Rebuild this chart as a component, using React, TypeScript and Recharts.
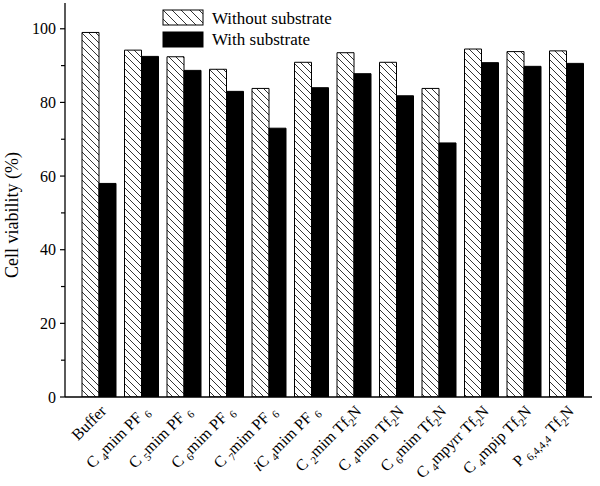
import React from "react";
import { BarChart, Bar, XAxis, YAxis, Legend } from "recharts";

const categories = [
  "Buffer",
  "C4mim PF6",
  "C5mim PF6",
  "C6mim PF6",
  "C7mim PF6",
  "iC4mim PF6",
  "C2mim Tf2N",
  "C4mim Tf2N",
  "C6mim Tf2N",
  "C4mpyrr Tf2N",
  "C4mpip Tf2N",
  "P6,4,4,4 Tf2N",
];

const withoutSubstrate = [99, 94.2, 92.4, 89, 83.8, 90.9, 93.5, 90.9, 83.8, 94.5, 93.8, 94];
const withSubstrate = [58, 92.5, 88.7, 83, 73, 84, 87.8, 81.8, 69, 90.8, 89.8, 90.6];

const yTicks = [0, 10, 20, 30, 40, 50, 60, 70, 80, 90, 100];
const yLabelTicks = [0, 20, 40, 60, 80, 100];

// label segments: [text, kind] where kind: "n" normal, "s" subscript, "i" italic
const labelParts: [string, string][][] = [
  [["Buffer", "n"]],
  [["C ", "n"], ["4", "s"], ["mim PF ", "n"], ["6", "s"]],
  [["C ", "n"], ["5", "s"], ["mim PF ", "n"], ["6", "s"]],
  [["C ", "n"], ["6", "s"], ["mim PF ", "n"], ["6", "s"]],
  [["C ", "n"], ["7", "s"], ["mim PF ", "n"], ["6", "s"]],
  [["i", "i"], ["C ", "n"], ["4", "s"], ["mim PF ", "n"], ["6", "s"]],
  [["C ", "n"], ["2", "s"], ["mim Tf", "n"], ["2", "s"], ["N", "n"]],
  [["C ", "n"], ["4", "s"], ["mim Tf", "n"], ["2", "s"], ["N", "n"]],
  [["C ", "n"], ["6", "s"], ["mim Tf", "n"], ["2", "s"], ["N", "n"]],
  [["C ", "n"], ["4", "s"], ["mpyrr Tf", "n"], ["2", "s"], ["N", "n"]],
  [["C ", "n"], ["4", "s"], ["mpip Tf", "n"], ["2", "s"], ["N", "n"]],
  [["P ", "n"], ["6,4,4,4", "s"], [" Tf", "n"], ["2", "s"], ["N", "n"]],
];

const data = categories.map((name, i) => ({
  name,
  without: withoutSubstrate[i],
  with: withSubstrate[i],
}));

const FONT = "Liberation Serif, Times New Roman, serif";
const fontStyle = { fontFamily: FONT };

const XTick = (props: any) => {
  const { x, y, index } = props;
  const parts = labelParts[index] || [[String(props.payload?.value ?? ""), "n"]];
  const ax = x + 8;
  const ay = y + 15;
  let shift = 0;
  const spans = parts.map(([t, k], j) => {
    let dy = 0;
    if (k === "s" && shift === 0) {
      dy = 4;
      shift = 4;
    } else if (k !== "s" && shift !== 0) {
      dy = -4;
      shift = 0;
    }
    return (
      <tspan
        key={j}
        dy={dy}
        style={{ fontFamily: FONT, fontSize: k === "s" ? 11 : 16, fontStyle: k === "i" ? "italic" : "normal" }}
      >
        {t}
      </tspan>
    );
  });
  return (
    <text
      x={ax}
      y={ay}
      textAnchor="end"
      transform={`rotate(-45, ${ax}, ${ay})`}
      style={{ fontFamily: FONT, fontSize: 16 }}
      fill="#000"
    >
      {spans}
    </text>
  );
};

const YTick = (props: any) => {
  const { x, y, payload } = props;
  const v = payload.value;
  const major = yLabelTicks.includes(v);
  return (
    <g>
      <line x1={x} x2={x - (major ? 5 : 4)} y1={y} y2={y} stroke="#000" strokeWidth={1.2} />
      {major && (
        <text
          x={x - 9}
          y={y}
          dy="0.35em"
          textAnchor="end"
          style={{ fontFamily: FONT, fontSize: 16 }}
          fill="#000"
        >
          {v}
        </text>
      )}
    </g>
  );
};

const YTitle = () => (
  <text
    x={18}
    y={215}
    transform="rotate(-90, 18, 215)"
    textAnchor="middle"
    style={{ fontFamily: FONT, fontSize: 18 }}
    fill="#000"
  >
    Cell viability (%)
  </text>
);

const LegendContent = () => (
  <svg width={360} height={52} style={{ display: "block", fontFamily: FONT }}>
    <rect x={163} y={10} width={40} height={15} fill="url(#hatchLegend)" stroke="#000" strokeWidth={1} />
    <text x={212} y={24} style={{ fontFamily: FONT, fontSize: 17 }} fill="#000">
      Without substrate
    </text>
    <rect x={163} y={32} width={40} height={15} fill="#000" stroke="#000" strokeWidth={1} />
    <text x={212} y={45} style={{ fontFamily: FONT, fontSize: 17 }} fill="#000">
      With substrate
    </text>
  </svg>
);

export default function App() {
  return (
    <div style={{ position: "absolute", left: 0, top: 0, width: 600, height: 486, background: "#fff", fontFamily: FONT }}>
      <svg width={0} height={0} style={{ position: "absolute" }}>
        <defs>
          <pattern id="hatchBar" patternUnits="userSpaceOnUse" width={7} height={7}>
            <rect x={0} y={0} width={7} height={7} fill="#fff" />
            <path d="M-1,-1 L8,8 M-1,6 L1,8 M6,-1 L8,1" stroke="#000" strokeWidth={0.8} />
          </pattern>
          <pattern id="hatchLegend" patternUnits="userSpaceOnUse" width={9} height={9}>
            <rect x={0} y={0} width={9} height={9} fill="#fff" />
            <path d="M-1,-1 L10,10 M-1,8 L1,10 M8,-1 L10,1" stroke="#000" strokeWidth={0.8} />
          </pattern>
        </defs>
      </svg>
      <BarChart
        width={600}
        height={486}
        data={data}
        margin={{ top: 3, right: 8, bottom: 0, left: 0 }}
        barGap={0}
        barSize={17}
        style={fontStyle}
      >
        <XAxis
          dataKey="name"
          height={89}
          padding={{ left: 13, right: 4 }}
          tickLine={false}
          tickSize={0}
          tickMargin={0}
          interval={0}
          tick={<XTick />}
          axisLine={{ stroke: "#000", strokeWidth: 1.3 }}
        />
        <XAxis
          xAxisId="top"
          orientation="top"
          dataKey="name"
          height={0}
          tick={false}
          tickLine={false}
          axisLine={{ stroke: "#000", strokeWidth: 1.3 }}
        />
        <YAxis
          width={65}
          domain={[0, 107]}
          ticks={yTicks}
          interval={0}
          allowDataOverflow
          tickLine={false}
          tickSize={0}
          tickMargin={0}
          tick={<YTick />}
          axisLine={{ stroke: "#000", strokeWidth: 1.3 }}
          label={<YTitle />}
        />
        <YAxis
          yAxisId="right"
          orientation="right"
          width={0}
          domain={[0, 107]}
          tick={false}
          tickLine={false}
          axisLine={{ stroke: "#000", strokeWidth: 1.3 }}
        />
        <Legend
          layout="vertical"
          align="center"
          verticalAlign="middle"
          wrapperStyle={{ left: 0, top: 0, width: 360, height: 52 }}
          content={<LegendContent />}
        />
        <Bar
          dataKey="without"
          name="Without substrate"
          fill="url(#hatchBar)"
          stroke="#000"
          strokeWidth={1}
          isAnimationActive={false}
        />
        <Bar
          dataKey="with"
          name="With substrate"
          fill="#000"
          stroke="#000"
          strokeWidth={1}
          isAnimationActive={false}
        />
      </BarChart>
    </div>
  );
}
